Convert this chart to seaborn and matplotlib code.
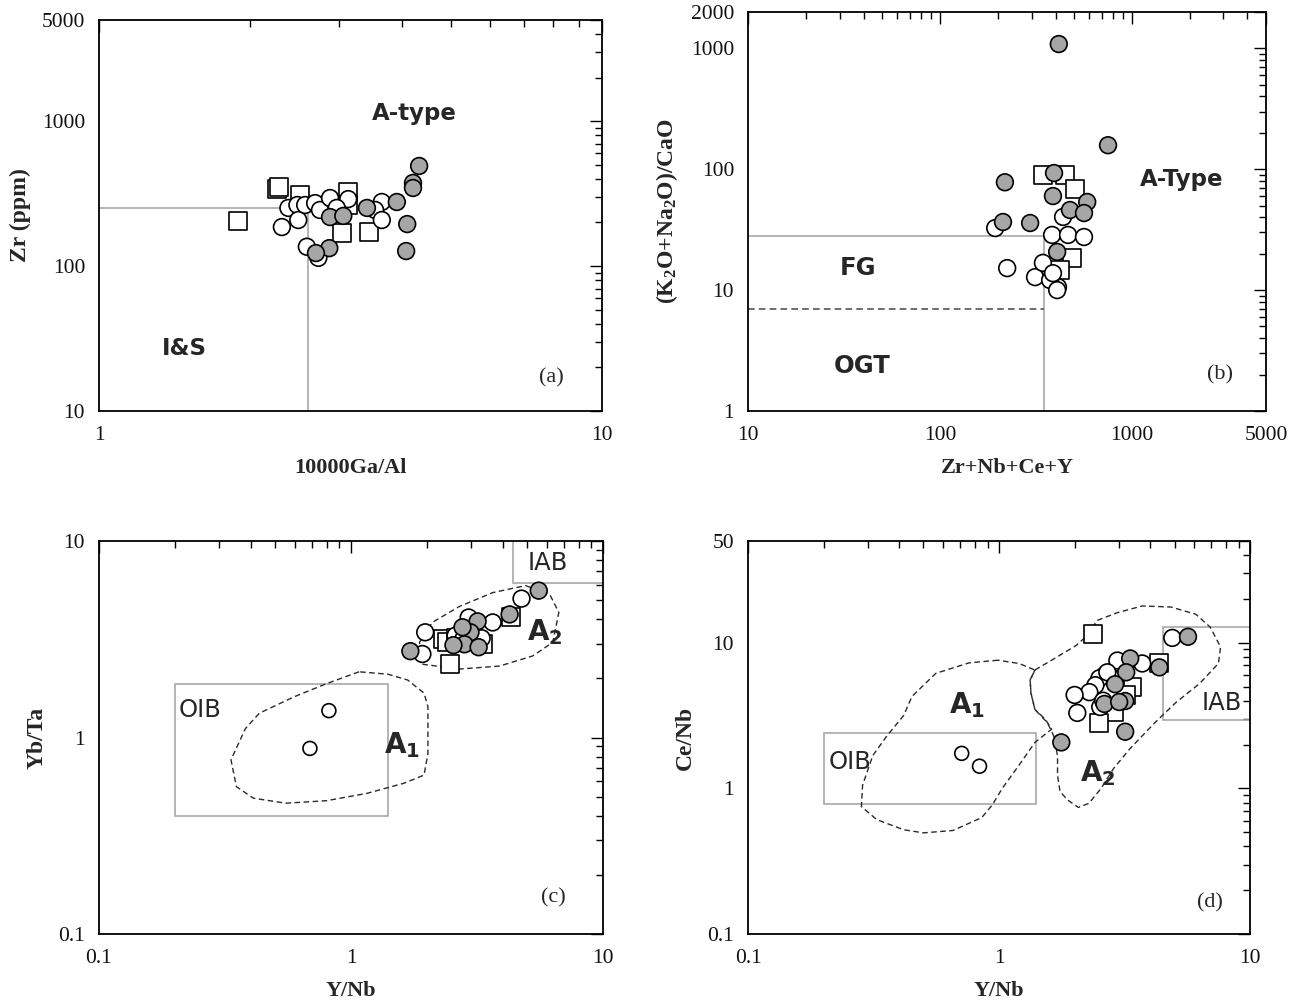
import numpy as np
import pandas as pd
import matplotlib
matplotlib.use("Agg")
import matplotlib.pyplot as plt
import seaborn as sns
from matplotlib.ticker import LogLocator, FixedLocator, FixedFormatter, NullFormatter
from matplotlib.patches import Rectangle

sns.set_theme(style="white")
plt.rcParams["font.family"] = ["Liberation Serif", "DejaVu Serif"]
plt.rcParams["mathtext.default"] = "regular"

# ---------------- Panel (a): Zr vs 10000Ga/Al ----------------
a_sq_x = [1.89, 2.26, 2.28, 2.51, 3.13, 3.13, 3.04, 3.44]
a_sq_y = [205, 340, 350, 310, 324, 264, 169, 172]
a_open_x = [2.31, 2.38, 2.48, 2.49, 2.57, 2.69, 2.75, 2.88, 3.13, 2.59, 2.73, 3.65, 3.54, 3.65, 2.97]
a_open_y = [186, 252, 264, 208, 264, 272, 244, 295, 290, 136, 114, 277, 244, 208, 252]
a_gray_x = [4.33, 4.21, 4.21, 3.91, 4.10, 4.08, 3.41, 2.88, 3.06, 2.87, 2.70]
a_gray_y = [491, 375, 346, 277, 195, 127, 252, 218, 222, 133, 123]
a_div_x = 2.6
a_div_y = 250
a_xticks = [1, 10]
a_yticks = [10, 100, 1000, 5000]

# ---------------- Panel (b): (K2O+Na2O)/CaO vs Zr+Nb+Ce+Y ----------------
b_sq_x = [344, 449, 506, 488, 423]
b_sq_y = [89.5, 89.5, 68.6, 18.4, 14.7]
b_open_x = [194, 224, 313, 344, 384, 465, 563, 438, 412, 375, 408, 388]
b_open_y = [32.6, 15.2, 12.8, 16.8, 28.6, 28.6, 27.5, 40.3, 10.6, 12.1, 10.0, 13.8]
b_gray_x = [416, 751, 218, 393, 388, 585, 476, 563, 213, 295, 408]
b_gray_y = [1086, 158, 78, 93, 60, 53.6, 46, 43.4, 36.6, 35.9, 20.7]
b_div_x = 350
b_fg_y = 28
b_ogt_y = 7
b_xticks = [10, 100, 1000, 5000]
b_yticks = [1, 10, 100, 1000, 2000]

# ---------------- Panel (c): Yb/Ta vs Y/Nb ----------------
c_sq_x = [2.31, 2.41, 2.48, 3.33, 4.30, 2.60]
c_sq_y = [3.16, 3.05, 2.36, 2.98, 4.10, 3.20]
c_open_x = [4.75, 3.65, 2.93, 1.92, 1.97, 2.60, 3.30, 2.80]
c_open_y = [5.09, 3.85, 4.08, 2.66, 3.43, 3.30, 3.20, 3.20]
c_small_x = [0.817, 0.687]
c_small_y = [1.37, 0.88]
c_gray_x = [5.56, 4.26, 3.18, 2.98, 2.77, 2.82, 3.21, 2.55, 1.72]
c_gray_y = [5.59, 4.23, 3.90, 3.43, 3.64, 2.98, 2.88, 2.95, 2.75]
c_oib_x = [0.2, 1.4]
c_oib_y = [0.4, 1.87]
c_iab_x = [4.4, 12]
c_iab_y = [6.1, 12]
c_a1_x = [1.077, 0.80, 0.594, 0.433, 0.381, 0.334, 0.351, 0.41, 0.552, 0.80, 1.16, 1.62, 1.95, 2.02, 2.02, 1.95, 1.68, 1.40, 1.077]
c_a1_y = [2.16, 1.88, 1.61, 1.33, 1.11, 0.77, 0.562, 0.491, 0.463, 0.477, 0.52, 0.585, 0.644, 0.83, 1.43, 1.68, 1.96, 2.10, 2.16]
c_a2_x = [1.92, 2.69, 3.89, 5.26, 6.32, 6.68, 6.15, 4.93, 3.65, 2.69, 2.10, 1.87, 1.92]
c_a2_y = [2.36, 2.23, 2.31, 2.60, 3.05, 4.33, 5.34, 5.93, 5.46, 4.64, 3.85, 3.05, 2.36]
c_xticks = [0.1, 1, 10]
c_yticks = [0.1, 1, 10]

# ---------------- Panel (d): Ce/Nb vs Y/Nb ----------------
d_sq_x = [2.36, 4.35, 3.40, 2.88, 2.51, 3.20]
d_sq_y = [11.5, 7.31, 4.95, 3.35, 2.83, 4.40]
d_open_x = [4.90, 3.72, 3.10, 2.96, 2.63, 2.51, 2.70, 2.42, 2.29, 2.00, 2.05, 2.53, 2.60]
d_open_y = [10.8, 7.21, 6.98, 7.55, 5.97, 5.70, 6.27, 5.11, 4.58, 4.38, 3.30, 3.62, 4.00]
d_small_x = [0.71, 0.836]
d_small_y = [1.74, 1.42]
d_gray_x = [5.66, 4.35, 3.33, 3.21, 2.90, 2.63, 3.18, 3.01, 3.18, 1.77]
d_gray_y = [11.0, 6.78, 7.80, 6.27, 5.19, 3.80, 3.98, 3.92, 2.45, 2.07]
d_oib_x = [0.2, 1.4]
d_oib_y = [0.78, 2.4]
d_iab_x = [4.5, 12]
d_iab_y = [2.95, 12.9]
d_a1_x = [0.99, 0.76, 0.56, 0.45, 0.417, 0.358, 0.314, 0.286, 0.283, 0.326, 0.417, 0.50, 0.655, 0.853,
          0.94, 1.03, 1.20, 1.39, 1.62, 1.53, 1.39, 1.34, 1.33, 1.39, 1.20, 0.99]
d_a1_y = [7.59, 7.28, 6.17, 4.28, 3.17, 2.30, 1.68, 1.05, 0.75, 0.61, 0.52, 0.495, 0.514, 0.63,
          0.77, 1.0, 1.44, 2.07, 2.55, 2.98, 3.48, 4.52, 5.56, 6.50, 7.21, 7.59]
d_a2_x = [1.39, 1.62, 2.03, 2.28, 2.45, 2.96, 3.72, 4.84, 6.08, 6.94, 7.63, 7.48, 6.31, 5.04, 4.17,
          3.32, 2.86, 2.55, 2.28, 2.07, 1.88, 1.75, 1.71, 1.71, 1.65, 1.56, 1.39, 1.34, 1.33, 1.39]
d_a2_y = [6.50, 7.59, 9.59, 11.5, 14.2, 16.1, 17.9, 17.6, 15.7, 12.8, 9.35, 7.21, 5.27, 3.86, 2.82,
          1.87, 1.37, 1.0, 0.79, 0.74, 0.83, 0.95, 1.23, 1.68, 2.30, 2.82, 3.48, 4.52, 5.56, 6.50]
d_xticks = [0.1, 1, 10]
d_yticks = [0.1, 1, 10, 50]

# ---------------- styling ----------------
FILL = {"sq": "white", "open": "white", "small": "white", "gray": "#a6a6a6"}
MARK = {"sq": "s", "open": "o", "small": "o", "gray": "o"}
SIZE = {"sq": 165, "open": 145, "small": 100, "gray": 145}
BOXC = "#a8a8a8"
DASHC = "#2a2a2a"
SANS = ["DejaVu Sans"]


def tick_label(v):
    return ("%g" % v)


def make_df(groups):
    rows = []
    for g, xs, ys in groups:
        for x, y in zip(xs, ys):
            rows.append({"x": x, "y": y, "g": g})
    return pd.DataFrame(rows)


def setup(ax, xlim, ylim, xt, yt, xlabel, ylabel):
    ax.set_xscale("log")
    ax.set_yscale("log")
    ax.set_xlim(*xlim)
    ax.set_ylim(*ylim)
    ax.xaxis.set_major_locator(FixedLocator(xt))
    ax.xaxis.set_major_formatter(FixedFormatter([tick_label(v) for v in xt]))
    ax.yaxis.set_major_locator(FixedLocator(yt))
    ax.yaxis.set_major_formatter(FixedFormatter([tick_label(v) for v in yt]))
    ax.xaxis.set_minor_locator(LogLocator(base=10, subs=np.arange(2, 10)))
    ax.yaxis.set_minor_locator(LogLocator(base=10, subs=np.arange(2, 10)))
    ax.xaxis.set_minor_formatter(NullFormatter())
    ax.yaxis.set_minor_formatter(NullFormatter())
    ax.tick_params(which="both", direction="in", top=True, right=True,
                   color="black", width=1.0, labelsize=15.5, labelcolor="#111111")
    ax.tick_params(which="major", length=8.5)
    ax.tick_params(which="minor", length=5)
    ax.tick_params(axis="x", which="both", pad=11)
    ax.tick_params(axis="y", which="both", pad=10)
    for s in ax.spines.values():
        s.set_color("black")
        s.set_linewidth(1.3)
        s.set_visible(True)
    ax.set_xlabel(xlabel, fontsize=16, fontweight="bold", labelpad=9)
    ax.set_ylabel(ylabel, fontsize=17, fontweight="bold", labelpad=8)
    ax.set_facecolor("white")


def scatter(ax, df):
    sns.scatterplot(data=df, x="x", y="y", hue="g", style="g", size="g",
                    palette=FILL, markers=MARK, sizes=SIZE,
                    edgecolor="black", linewidth=1.2, legend=False, ax=ax, zorder=4)


fig = plt.figure(figsize=(12.89, 10.08), dpi=100)
fig.patch.set_facecolor("white")
axA = fig.add_axes([0.0768, 0.5923, 0.3902, 0.3879])
axB = fig.add_axes([0.5803, 0.5923, 0.4019, 0.3958])
axC = fig.add_axes([0.0768, 0.0734, 0.3910, 0.3899])
axD = fig.add_axes([0.5803, 0.0734, 0.3895, 0.3899])

# ---- (a)
setup(axA, (1, 10), (10, 5000), a_xticks, a_yticks, "10000Ga/Al", "Zr (ppm)")
axA.plot([1, a_div_x], [a_div_y, a_div_y], color=BOXC, lw=1.2, zorder=2)
axA.plot([a_div_x, a_div_x], [10, a_div_y], color=BOXC, lw=1.2, zorder=2)
scatter(axA, make_df([("sq", a_sq_x, a_sq_y), ("open", a_open_x, a_open_y), ("gray", a_gray_x, a_gray_y)]))
axA.text(0.626, 0.762, "A-type", transform=axA.transAxes, family=SANS, fontweight="bold",
         fontsize=16.5, ha="center", va="center")
axA.text(0.169, 0.161, "I&S", transform=axA.transAxes, family=SANS, fontweight="bold",
         fontsize=16.5, ha="center", va="center")
axA.text(0.90, 0.084, "(a)", transform=axA.transAxes, fontsize=16, ha="center", va="center")

# ---- (b)
setup(axB, (10, 5000), (1, 2000), b_xticks, b_yticks, "Zr+Nb+Ce+Y", "(K$_2$O+Na$_2$O)/CaO")
axB.plot([10, b_div_x], [b_fg_y, b_fg_y], color=BOXC, lw=1.2, zorder=2)
axB.plot([b_div_x, b_div_x], [1, b_fg_y], color=BOXC, lw=1.2, zorder=2)
axB.plot([10, b_div_x], [b_ogt_y, b_ogt_y], color="#555555", lw=1.2, ls=(0, (4, 2.5)), zorder=2)
scatter(axB, make_df([("sq", b_sq_x, b_sq_y), ("open", b_open_x, b_open_y), ("gray", b_gray_x, b_gray_y)]))
axB.text(0.838, 0.579, "A-Type", transform=axB.transAxes, family=SANS, fontweight="bold",
         fontsize=16.5, ha="center", va="center")
axB.text(0.212, 0.358, "FG", transform=axB.transAxes, family=SANS, fontweight="bold",
         fontsize=17.5, ha="center", va="center")
axB.text(0.220, 0.113, "OGT", transform=axB.transAxes, family=SANS, fontweight="bold",
         fontsize=17.5, ha="center", va="center")
axB.text(0.911, 0.090, "(b)", transform=axB.transAxes, fontsize=16, ha="center", va="center")

# ---- (c)
setup(axC, (0.1, 10), (0.1, 10), c_xticks, c_yticks, "Y/Nb", "Yb/Ta")
axC.add_patch(Rectangle((c_oib_x[0], c_oib_y[0]), c_oib_x[1] - c_oib_x[0], c_oib_y[1] - c_oib_y[0],
                        fill=False, edgecolor=BOXC, lw=1.2, zorder=2))
axC.add_patch(Rectangle((c_iab_x[0], c_iab_y[0]), c_iab_x[1] - c_iab_x[0], c_iab_y[1] - c_iab_y[0],
                        fill=False, edgecolor=BOXC, lw=1.2, zorder=2, clip_on=True))
axC.plot(c_a1_x, c_a1_y, color=DASHC, lw=1.0, ls=(0, (4, 2.5)), zorder=3)
axC.plot(c_a2_x, c_a2_y, color=DASHC, lw=1.0, ls=(0, (4, 2.5)), zorder=3)
scatter(axC, make_df([("sq", c_sq_x, c_sq_y), ("open", c_open_x, c_open_y),
                      ("small", c_small_x, c_small_y), ("gray", c_gray_x, c_gray_y)]))
axC.text(0.200, 0.570, "OIB", transform=axC.transAxes, family=SANS, fontsize=17.5, ha="center", va="center")
axC.text(0.891, 0.944, "IAB", transform=axC.transAxes, family=SANS, fontsize=17.5, ha="center", va="center")
axC.text(0.601, 0.481, "A$_1$", transform=axC.transAxes, family=SANS, fontweight="bold",
         fontsize=20, ha="center", va="center")
axC.text(0.885, 0.768, "A$_2$", transform=axC.transAxes, family=SANS, fontweight="bold",
         fontsize=20, ha="center", va="center")
axC.text(0.901, 0.092, "(c)", transform=axC.transAxes, fontsize=16, ha="center", va="center")

# ---- (d)
setup(axD, (0.1, 10), (0.1, 50), d_xticks, d_yticks, "Y/Nb", "Ce/Nb")
axD.add_patch(Rectangle((d_oib_x[0], d_oib_y[0]), d_oib_x[1] - d_oib_x[0], d_oib_y[1] - d_oib_y[0],
                        fill=False, edgecolor=BOXC, lw=1.2, zorder=2))
axD.add_patch(Rectangle((d_iab_x[0], d_iab_y[0]), d_iab_x[1] - d_iab_x[0], d_iab_y[1] - d_iab_y[0],
                        fill=False, edgecolor=BOXC, lw=1.2, zorder=2, clip_on=True))
axD.plot(d_a1_x, d_a1_y, color=DASHC, lw=1.0, ls=(0, (4, 2.5)), zorder=3)
axD.plot(d_a2_x, d_a2_y, color=DASHC, lw=1.0, ls=(0, (4, 2.5)), zorder=3)
scatter(axD, make_df([("sq", d_sq_x, d_sq_y), ("open", d_open_x, d_open_y),
                      ("small", d_small_x, d_small_y), ("gray", d_gray_x, d_gray_y)]))
axD.text(0.203, 0.438, "OIB", transform=axD.transAxes, family=SANS, fontsize=17.5, ha="center", va="center")
axD.text(0.944, 0.588, "IAB", transform=axD.transAxes, family=SANS, fontsize=17.5, ha="center", va="center")
axD.text(0.436, 0.583, "A$_1$", transform=axD.transAxes, family=SANS, fontweight="bold",
         fontsize=20, ha="center", va="center")
axD.text(0.697, 0.410, "A$_2$", transform=axD.transAxes, family=SANS, fontweight="bold",
         fontsize=20, ha="center", va="center")
axD.text(0.920, 0.079, "(d)", transform=axD.transAxes, fontsize=16, ha="center", va="center")

fig.savefig("out.png", dpi=100, facecolor="white")
